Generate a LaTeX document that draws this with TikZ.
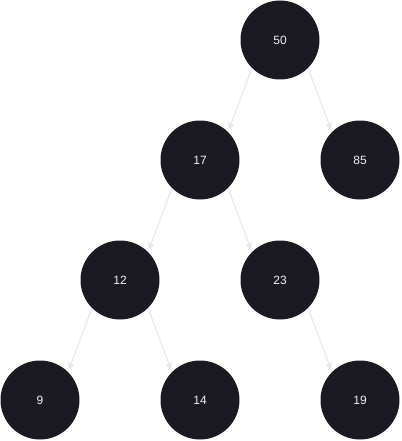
\documentclass[tikz,border=0pt]{standalone}
\usepackage{fontspec}
\setmainfont{Liberation Sans}
\usetikzlibrary{arrows.meta}

\definecolor{nodefill}{HTML}{1B1921}
\definecolor{linkgray}{HTML}{E4E4E4}
\definecolor{labelwhite}{HTML}{F0F0F0}

\begin{document}
\begin{tikzpicture}[x=1pt,y=-1pt,
  key/.style={circle,fill=nodefill,minimum size=79pt,inner sep=0pt,
    text=labelwhite,font=\fontsize{12}{14}\selectfont},
  link/.style={linkgray,line width=0.9pt,shorten >=2.5pt,
    -{Stealth[length=7pt,width=7pt,inset=2pt]}}]
  \useasboundingbox (0,0) rectangle (401,441);

  % tree nodes
  \node[key] (n50) at (280,40) {50};
  \node[key] (n17) at (200,160) {17};
  \node[key] (n85) at (360,160) {85};
  \node[key] (n12) at (120,280) {12};
  \node[key] (n23) at (280,280) {23};
  \node[key] (n9)  at (40,400)  {9};
  \node[key] (n14) at (200,400) {14};
  \node[key] (n19) at (360,400) {19};

  % links
  \draw[link] (n50.225) -- (n17.45);
  \draw[link] (n50.315) -- (n85.135);
  \draw[link] (n17.225) -- (n12.45);
  \draw[link] (n17.315) -- (n23.135);
  \draw[link] (n12.225) -- (n9.45);
  \draw[link] (n12.315) -- (n14.135);
  \draw[link] (n23.315) -- (n19.135);
\end{tikzpicture}
\end{document}
